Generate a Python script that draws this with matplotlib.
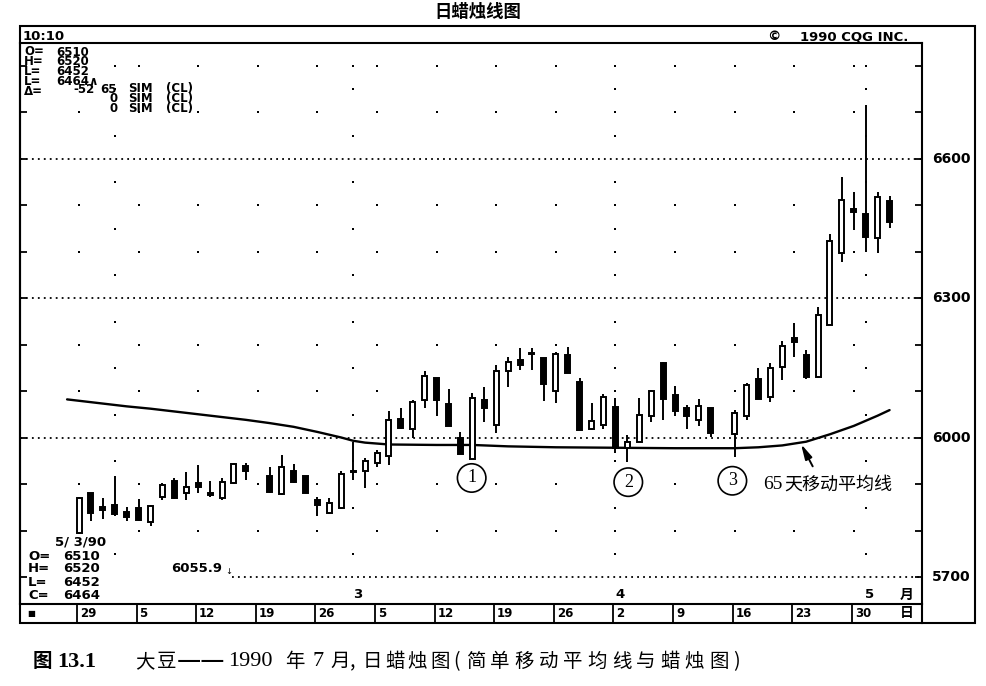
import matplotlib
matplotlib.use('Agg')
import matplotlib.pyplot as plt
from matplotlib.patches import Rectangle, Ellipse
import matplotlib.transforms as mtrans

# ---------------- data ----------------
days = [0, 1, 2, 3, 4, 5, 6, 7, 8, 9, 10, 11, 12, 13, 14,
        16, 17, 18, 19, 20, 21, 22, 23, 24, 25, 26, 27, 28, 29, 30,
        31, 32, 33, 34, 35, 36, 37, 38, 39, 40, 41, 42, 43, 44, 45,
        46, 47, 48, 49, 50, 51, 52, 53,
        55, 56, 57, 58, 59, 60, 61, 62, 63, 64, 65, 66, 67, 68]
opens = [5796, 5881, 5851, 5856, 5841, 5849, 5820, 5874, 5908, 5882, 5904, 5882, 5872, 5904, 5940,
         5918, 5880, 5928, 5918, 5867, 5839, 5849, 5929, 5929, 5946, 5961, 6040, 6019, 6082, 6128,
         6073, 5999, 5954, 6082, 6028, 6143, 6168, 6183, 6171, 6100, 6178, 6121, 6020, 6028, 6067,
         5978, 5992, 6047, 6161, 6092, 6064, 6039, 6064,
         6009, 6047, 6127, 6089, 6153, 6214, 6179, 6132, 6243, 6397, 6493, 6482, 6430, 6510]
highs = [5874, 5882, 5872, 5918, 5852, 5868, 5856, 5903, 5913, 5927, 5942, 5908, 5913, 5946, 5947,
         5938, 5963, 5943, 5918, 5874, 5870, 5929, 5992, 5956, 5974, 6058, 6065, 6082, 6143, 6128,
         6105, 6012, 6097, 6110, 6157, 6175, 6193, 6193, 6171, 6185, 6196, 6128, 6076, 6095, 6085,
         6006, 6085, 6103, 6164, 6112, 6071, 6083, 6064,
         6060, 6118, 6150, 6162, 6209, 6247, 6189, 6282, 6439, 6562, 6530, 6716, 6528, 6520]
lows = [5794, 5821, 5825, 5832, 5821, 5822, 5811, 5867, 5868, 5867, 5882, 5874, 5867, 5901, 5910,
        5882, 5878, 5903, 5881, 5832, 5837, 5848, 5910, 5892, 5937, 5942, 6019, 5999, 6064, 6047,
        6026, 5965, 5954, 6035, 6010, 6110, 6146, 6146, 6080, 6075, 6139, 6017, 6017, 6019, 5967,
        5949, 5992, 6035, 6039, 6047, 6019, 6026, 6002,
        5960, 6039, 6083, 6078, 6125, 6175, 6127, 6130, 6243, 6379, 6447, 6401, 6397, 6452]
closes = [5870, 5838, 5846, 5837, 5831, 5824, 5854, 5899, 5870, 5894, 5894, 5877, 5906, 5944, 5930,
          5884, 5938, 5906, 5881, 5856, 5860, 5923, 5926, 5951, 5967, 6039, 6022, 6078, 6133, 6082,
          6026, 5965, 6085, 6064, 6144, 6163, 6157, 6180, 6116, 6181, 6139, 6017, 6037, 6089, 5978,
          5992, 6049, 6100, 6084, 6057, 6047, 6069, 6011,
          6053, 6114, 6083, 6150, 6198, 6207, 6131, 6265, 6424, 6512, 6485, 6433, 6518, 6464]

ma_days = [-1, 0, 2, 4, 6, 8, 10, 12, 14, 16, 18, 20, 22, 23, 24, 26, 30, 33, 36, 40,
           45, 50, 55, 57, 59, 61, 63, 65, 67, 68]
ma_vals = [6083, 6080, 6074, 6068, 6063, 6057, 6051, 6045, 6039, 6032, 6024, 6013, 6001, 5994,
           5990, 5986, 5985, 5985, 5982, 5980, 5979, 5978, 5978, 5980, 5984, 5992, 6008, 6026,
           6048, 6060]

week_days = [0, 5, 10, 15, 20, 25, 30, 35, 40, 45, 50, 55, 60, 65]
week_labels = ["29", "5", "12", "19", "26", "5", "12", "19", "26", "2", "9", "16", "23", "30"]
month_days = [3, 23, 45, 66]
month_label_days = [23, 45, 66]
month_labels = ["3", "4", "5"]
price_levels = [5700, 6000, 6300, 6600]
dot_levels_week = [5800, 5900, 6100, 6200, 6400, 6500, 6700, 6800]
dot_levels_month = [5750, 5850, 5950, 6050, 6150, 6250, 6350, 6450, 6550, 6650, 6750, 6800]

circle_days = [33, 46, 55]
circle_labels = ["1", "2", "3"]

# ---------------- figure ----------------
W, H = 986, 686
fig = plt.figure(figsize=(W / 100, H / 100), dpi=100)
fig.patch.set_facecolor('white')


def fx(x):
    return x / W


def fy(y):
    return 1 - y / H


ax = fig.add_axes([fx(20), fy(604), fx(922) - fx(20), fy(42.7) - fy(604)])
ax.set_xlim(-4.95, 70.72)
ax.set_ylim(5643, 6850)
for s in ax.spines.values():
    s.set_linewidth(1.5)
ax.set_xticks([])
ax.set_yticks(range(5700, 6850, 100))
ax.tick_params(axis='y', direction='in', left=True, right=True, labelleft=False,
               labelright=False, length=5, width=1.3)

mono = dict(family='DejaVu Sans', fontweight='bold', fontsize=8.5, color='black')
mono_big = dict(family='DejaVu Sans', fontweight='bold', fontsize=9.5, color='black')

# dotted price lines
for lv in price_levels:
    x0 = 12.8 if lv == 5700 else -4.95
    ax.plot([x0, 70.72], [lv, lv], color='black', lw=1.3, linestyle=(0, (1, 2.3)), zorder=1)

# dot grid
wx, wy = [], []
for d in week_days:
    for lv in dot_levels_week:
        wx.append(d)
        wy.append(lv)
for d in month_days:
    for lv in dot_levels_month:
        wx.append(d)
        wy.append(lv)
ax.scatter(wx, wy, s=2.5, marker='s', color='black', linewidths=0, zorder=1)

# moving average
ax.plot(ma_days, ma_vals, color='black', lw=1.7, zorder=2, solid_capstyle='round')

# candles
bw = 0.42
for d, o, h, l, c in zip(days, opens, highs, lows, closes):
    ax.plot([d, d], [l, h], color='black', lw=1.4, zorder=3, solid_capstyle='butt')
    lo = min(o, c)
    ht = abs(c - o)
    fc = 'white' if c > o else 'black'
    ax.add_patch(Rectangle((d - bw / 2, lo), bw, ht, facecolor=fc, edgecolor='black',
                           lw=1.4, zorder=4))

# circles with numbers
cy = [5914, 5905, 5908]
cdx = [-0.06, 0.08, -0.19]
for d, lab, yv, dx in zip(circle_days, circle_labels, cy, cdx):
    ax.add_patch(Ellipse((d + dx, yv), width=2.39, height=61, facecolor='white',
                         edgecolor='black', lw=1.2, zorder=5))
    ax.text(d + dx, yv, lab, ha='center', va='center', fontsize=13,
            family='Liberation Serif', zorder=6)

# MA annotation
ax.annotate('', xy=(60.57, 5987), xytext=(61.55, 5939),
            arrowprops=dict(arrowstyle='-|>,head_length=0.9,head_width=0.22', color='black',
                            lw=1.4, shrinkA=0, shrinkB=0), zorder=6)
ax.text(57.4, 5900, "65", ha='left', va='center', fontsize=14, family='Liberation Serif', zorder=6)
ax.text(59.2, 5900, "天移动平均线", ha='left', va='center', fontsize=13,
        family='Noto Sans CJK SC', zorder=6)

# ---------------- frame / date row ----------------
fig.add_artist(Rectangle((fx(20), fy(623)), fx(975) - fx(20), fy(26) - fy(623),
                         transform=fig.transFigure, fill=False, lw=1.5, edgecolor='black'))
fig.add_artist(plt.Line2D([fx(922), fx(922)], [fy(604), fy(623)], transform=fig.transFigure,
                          color='black', lw=1.5))

txf = mtrans.blended_transform_factory(ax.transData, fig.transFigure)
tfy = mtrans.blended_transform_factory(fig.transFigure, ax.transData)

for d, lab in zip(week_days, week_labels):
    ax.plot([d - 0.17, d - 0.17], [fy(604), fy(623)], transform=txf, clip_on=False,
            color='black', lw=1.3)
    ax.text(d - 0.17 + 0.25, fy(613.5), lab, transform=txf, ha='left', va='center', **mono)
fig.text(fx(27), fy(613.5), "■", ha='left', va='center', fontsize=6, color='black')
ax.text(69.43, fy(613.5), "日", transform=txf, ha='center', va='center', fontsize=10,
        family='Noto Sans CJK SC', fontweight='bold')

for d, lab in zip(month_label_days, month_labels):
    ax.text(d + 0.35, fy(595), lab, transform=txf, ha='center', va='center', **mono_big)
ax.text(69.43, fy(594.5), "月", transform=txf, ha='center', va='center', fontsize=10,
        family='Noto Sans CJK SC', fontweight='bold')

for lv in price_levels:
    ax.text(fx(932), lv, str(lv), transform=tfy, ha='left', va='center',
            family='DejaVu Sans', fontweight='bold', fontsize=10)

# header
fig.text(fx(478), fy(12), "日蜡烛线图", ha='center', va='center', fontsize=12.5,
         family='Noto Sans CJK SC', fontweight='bold')
fig.text(fx(23), fy(36), "10:10", ha='left', va='center', **mono_big)
fig.text(fx(767), fy(36.5), "©", ha='left', va='center', **mono_big)
fig.text(fx(800), fy(36.5), "1990 CQG INC.", ha='left', va='center', **mono_big)

# top-left info block (column-wise multi-line texts)
r = [53.3 + 9.08 * k for k in range(7)]
info_cols = [(24, 0, ["O=", "H=", "L=", "L=", "Δ="]),
             (56, 0, ["6510", "6520", "6452", "6464∧"]),
             (73, 4, ["-52"]),
             (100, 4, ["65"]),
             (110, 5, ["0", "0"]),
             (128, 4, ["SIM", "SIM", "SIM"]),
             (166, 4, ["(CL)", "(CL)", "(CL)"])]
for xx, r0, lines in info_cols:
    yc = (r[r0] + r[r0 + len(lines) - 1]) / 2
    fig.text(fx(xx), fy(yc), "\n".join(lines), ha='left', va='center', linespacing=0.69,
             **mono)

# bottom-left info block
fig.text(fx(55), fy(541.7), "5/ 3/90", ha='left', va='center', **mono_big)
bl_rows = [(556.7, "O=", "6510"), (568.8, "H=", "6520"), (582.7, "L=", "6452"),
           (595.7, "C=", "6464")]
for yy, a, b in bl_rows:
    fig.text(fx(28), fy(yy), a, ha='left', va='center', **mono_big)
    fig.text(fx(63), fy(yy), b, ha='left', va='center', **mono_big)
fig.text(fx(171), fy(569), "6055.9", ha='left', va='center', **mono_big)
fig.text(fx(225), fy(571), "↓", ha='left', va='center', fontsize=6, color='black')

# caption
cy_px = 661.7
fig.text(fx(33), fy(cy_px), "图", ha='left', va='center', fontsize=14,
         family='Noto Sans CJK SC', fontweight='bold')
fig.text(fx(57), fy(cy_px), "13.1", ha='left', va='center', fontsize=16,
         family='Liberation Serif', fontweight='bold')
cap_parts = [("大", 135, 'cjk'), ("豆", 157, 'cjk'), ("——", 177, 'dash'), ("1990", 228, 'num'),
             ("年", 285, 'cjk'), ("7", 313, 'num'), ("月", 330, 'cjk'), (",", 350, 'cjk'),
             ("日", 363, 'cjk'), ("蜡", 385, 'cjk'), ("烛", 407, 'cjk'), ("图", 430, 'cjk'),
             ("(", 453, 'cjk')]
for s, xx, kind in cap_parts:
    if kind == 'num':
        fig.text(fx(xx), fy(cy_px), s, ha='left', va='center', fontsize=16,
                 family='Liberation Serif')
    elif kind == 'dash':
        fig.text(fx(xx), fy(cy_px), s, ha='left', va='center', fontsize=19.5,
                 family='Noto Sans CJK SC', fontweight='light')
    else:
        fig.text(fx(xx), fy(cy_px), s, ha='left', va='center', fontsize=14,
                 family='Noto Sans CJK SC')
tail = "简单移动平均线与蜡烛图)"
for k, ch in enumerate(tail):
    fig.text(fx(466 + k * 24.3), fy(cy_px), ch, ha='left', va='center', fontsize=14,
             family='Noto Sans CJK SC')

fig.savefig('out.png', dpi=100, facecolor='white')
